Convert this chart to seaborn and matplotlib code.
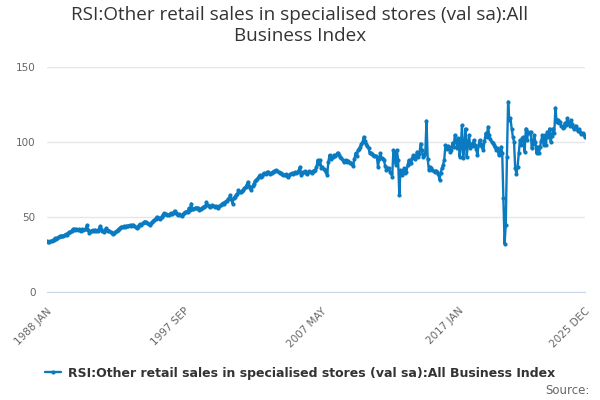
import numpy as np
import pandas as pd
import matplotlib
matplotlib.use("Agg")
import matplotlib.pyplot as plt
import seaborn as sns

# monthly index values, one list per year
y1988 = [33.8, 33.5, 33.4, 33.9, 34.2, 34.6, 35.0, 35.8, 35.5, 36.3, 36.9, 37.3]
y1989 = [37.1, 37.6, 37.4, 38.0, 38.4, 38.2, 39.1, 39.8, 40.3, 41.0, 41.9, 42.0]
y1990 = [41.6, 42.1, 41.5, 41.8, 41.3, 41.0, 41.7, 41.4, 41.8, 42.3, 44.7, 41.2]
y1991 = [39.1, 40.4, 41.0, 41.3, 40.6, 41.5, 40.8, 40.9, 42.0, 44.0, 41.8, 40.5]
y1992 = [40.2, 41.1, 42.4, 41.6, 41.0, 40.9, 39.8, 39.2, 38.7, 39.5, 40.3, 40.9]
y1993 = [41.5, 42.3, 42.9, 43.6, 43.2, 43.8, 43.5, 44.0, 43.7, 44.2, 44.5, 44.3]
y1994 = [44.5, 44.7, 44.1, 43.3, 42.4, 43.6, 44.6, 45.3, 45.0, 45.8, 46.4, 46.9]
y1995 = [46.5, 46.0, 45.3, 44.7, 45.8, 46.6, 47.3, 48.1, 49.0, 50.2, 49.6, 49.3]
y1996 = [49.0, 50.3, 51.5, 52.4, 51.8, 52.0, 51.6, 51.3, 52.1, 52.6, 52.3, 53.0]
y1997 = [54.2, 52.4, 51.9, 51.3, 52.0, 51.6, 50.7, 51.8, 52.5, 53.1, 53.6, 53.2]
y1998 = [55.8, 54.9, 59.0, 55.6, 55.2, 55.9, 56.3, 55.7, 56.1, 55.0, 55.4, 56.0]
y1999 = [56.5, 57.0, 57.4, 60.0, 57.8, 57.2, 56.9, 57.5, 58.0, 57.1, 56.6, 57.3]
y2000 = [56.8, 56.0, 57.2, 58.1, 58.6, 59.3, 59.0, 60.2, 61.0, 61.8, 62.5, 64.7]
y2001 = [62.0, 59.0, 62.8, 63.5, 64.9, 65.6, 68.0, 66.4, 66.9, 67.5, 68.2, 69.1]
y2002 = [70.0, 71.4, 73.5, 71.0, 69.5, 68.0, 70.6, 72.3, 73.8, 74.5, 75.6, 76.9]
y2003 = [78.0, 76.8, 77.5, 78.6, 79.3, 78.9, 79.8, 80.1, 79.4, 79.0, 79.6, 80.2]
y2004 = [80.6, 81.0, 81.3, 80.4, 80.0, 79.5, 79.2, 78.8, 78.3, 77.9, 78.4, 77.6]
y2005 = [77.0, 77.8, 78.5, 79.1, 78.6, 79.4, 80.0, 79.6, 80.3, 81.2, 83.5, 78.0]
y2006 = [79.2, 79.8, 80.5, 79.6, 79.0, 79.9, 80.6, 80.1, 79.5, 80.4, 81.0, 81.3]
y2007 = [83.5, 88.0, 85.2, 88.0, 82.4, 83.6, 82.0, 81.3, 80.0, 78.0, 86.5, 91.3]
y2008 = [89.0, 89.8, 90.2, 91.5, 90.8, 92.0, 93.0, 91.6, 90.2, 89.1, 88.0, 86.9]
y2009 = [87.5, 88.0, 86.9, 87.4, 85.8, 86.3, 85.2, 84.0, 88.6, 92.4, 91.0, 94.7]
y2010 = [95.5, 97.0, 99.0, 100.2, 103.5, 101.0, 99.0, 97.4, 95.8, 92.4, 92.9, 91.8]
y2011 = [91.3, 90.6, 91.0, 90.2, 83.5, 88.4, 92.4, 89.5, 88.7, 88.0, 84.2, 81.3]
y2012 = [83.0, 82.4, 80.1, 79.2, 76.9, 94.7, 93.5, 85.0, 94.7, 88.0, 64.7, 81.3]
y2013 = [78.0, 80.9, 82.4, 79.6, 80.2, 84.5, 88.0, 86.2, 85.8, 89.4, 91.3, 88.6]
y2014 = [90.5, 93.5, 90.2, 92.0, 99.0, 94.6, 90.2, 91.4, 92.8, 114.2, 89.0, 81.3]
y2015 = [83.6, 82.4, 81.5, 80.7, 80.2, 81.0, 79.8, 79.0, 74.7, 79.6, 82.4, 84.9]
y2016 = [88.0, 98.0, 95.2, 97.5, 96.9, 93.1, 94.7, 99.6, 97.0, 104.7, 101.0, 95.8]
y2017 = [102.4, 90.2, 96.5, 111.3, 89.5, 97.0, 109.0, 90.2, 98.3, 104.7, 95.8, 99.0]
y2018 = [97.5, 101.3, 98.0, 95.6, 91.3, 97.8, 101.3, 98.4, 96.9, 94.7, 100.5, 105.8]
y2019 = [103.6, 110.2, 104.5, 101.7, 100.2, 99.1, 98.0, 96.4, 94.7, 95.9, 91.3, 94.0]
y2020 = [96.9, 93.0, 62.4, 32.0, 44.7, 90.0, 127.0, 114.7, 115.8, 109.0, 103.5, 100.2]
y2021 = [82.4, 79.0, 83.5, 92.4, 101.3, 98.0, 102.4, 103.5, 93.5, 109.0, 101.3, 106.9]
y2022 = [105.8, 106.9, 95.8, 99.0, 104.7, 100.2, 92.4, 97.0, 92.4, 96.5, 101.0, 104.7]
y2023 = [98.0, 104.7, 98.0, 106.9, 103.2, 109.0, 100.2, 104.0, 109.0, 106.0, 122.9, 113.6]
y2024 = [115.0, 112.4, 113.6, 111.0, 109.5, 110.2, 112.8, 111.5, 115.8, 113.0, 110.6, 114.7]
y2025 = [112.0, 110.2, 108.4, 111.0, 109.0, 107.5, 108.8, 106.9, 105.2, 106.0, 104.8, 103.5]

years = [y1988, y1989, y1990, y1991, y1992, y1993, y1994, y1995, y1996, y1997,
         y1998, y1999, y2000, y2001, y2002, y2003, y2004, y2005, y2006, y2007,
         y2008, y2009, y2010, y2011, y2012, y2013, y2014, y2015, y2016, y2017,
         y2018, y2019, y2020, y2021, y2022, y2023, y2024, y2025]
values = [v for yr in years for v in yr]

tick_labels = ['1988 JAN', '1997 SEP', '2007 MAY', '2017 JAN', '2025 DEC']
series_name = 'RSI:Other retail sales in specialised stores (val sa):All Business Index'
title = 'RSI:Other retail sales in specialised stores (val sa):All\nBusiness Index'

df = pd.DataFrame({'month': np.arange(len(values)), 'value': values})

sns.set_style('white')
plt.rcParams['font.family'] = ['DejaVu Sans']

fig = plt.figure(figsize=(6, 4), dpi=100)
ax = fig.add_axes([0.078, 0.27, 0.897, 0.5625])

line_color = '#0b7bc1'
sns.lineplot(data=df, x='month', y='value', ax=ax, color=line_color,
             linewidth=1.7, marker='o', markersize=3, markeredgewidth=0,
             label=series_name)

n = len(values) - 1
ax.set_xlim(0, n)
ax.set_ylim(0, 150)
ax.set_yticks([0, 50, 100, 150])
ax.yaxis.grid(True, color='#e6e6e6', linewidth=1)
ax.tick_params(axis='y', length=0, pad=8, labelsize=7.5, labelcolor='#666666')

# ticks every 29 months, labels on every 4th one plus the last month
ticks = list(range(0, n, 29)) + [n]
labels = [''] * len(ticks)
labelled = [0, 4, 8, 12, len(ticks) - 1]
for k, lab in zip(labelled, tick_labels):
    labels[k] = lab
ax.set_xticks(ticks)
ax.set_xticklabels(labels, rotation=45, ha='right', rotation_mode='anchor')
ax.tick_params(axis='x', direction='out', length=7, width=1, color='#ccd6eb',
               labelsize=7.5, labelcolor='#666666', pad=3)

for side in ['top', 'right', 'left']:
    ax.spines[side].set_visible(False)
ax.spines['bottom'].set_color('#ccd6eb')
ax.set_xlabel('')
ax.set_ylabel('')

fig.suptitle(title, fontsize=13.6, color='#333333', y=0.985, linespacing=1.2,
             family='Open Sans')

leg = ax.legend(loc='center', bbox_to_anchor=(0.5, 0.0675), bbox_transform=fig.transFigure,
                frameon=False, handlelength=1.3, handletextpad=0.5,
                prop={'weight': 'bold', 'size': 9, 'family': 'DejaVu Sans'})
for t in leg.get_texts():
    t.set_color('#333333')

fig.text(0.982, 0.025, 'Source:', ha='right', va='center', fontsize=8.5, color='#666666')

fig.savefig('out.png', dpi=100)
